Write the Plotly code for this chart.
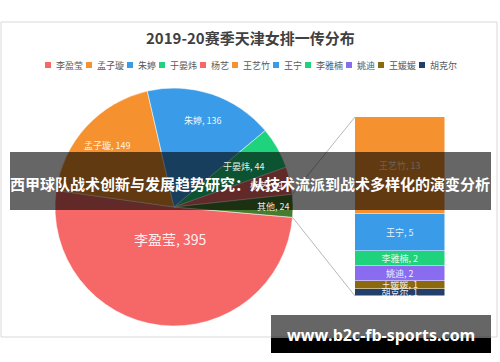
import math
import plotly.graph_objects as go

W, H = 500, 362

# ---- data ----
pie_labels = ["李盈莹", "孟子璇", "朱婷", "于晏炜", "杨艺", "其他"]
pie_values = [395, 149, 136, 44, 29, 24]
pie_colors = ["#F66867", "#F5922F", "#3A9CE8", "#1FD27C", "#F66867", "#467C2F"]

bar_labels = ["王艺竹", "王宁", "李雅楠", "姚迪", "王媛媛", "胡克尔"]
bar_values = [13, 5, 2, 2, 1, 1]
bar_colors = ["#F5922F", "#3A9CE8", "#1FD27C", "#8A6CF0", "#8B6A0E", "#223F6B"]

legend_labels = ["李盈莹", "孟子璇", "朱婷", "于晏炜", "杨艺",
                 "王艺竹", "王宁", "李雅楠", "姚迪", "王媛媛", "胡克尔"]
legend_colors = pie_colors[:5] + bar_colors

title_text = "2019-20赛季天津女排一传分布"
banner_text = "西甲球队战术创新与发展趋势研究：从技术流派到战术多样化的演变分析"
watermark_text = "www.b2c-fb-sports.com"

FONT = "Noto Sans CJK SC"


def px(x):
    return x / W


def py(y):
    return 1 - y / H


# ---- geometry (layout) ----
cx, cy, R = 174, 207, 119
rotation = 95
bx0, bx1, by0, by1 = 355, 445, 117, 296

fig = go.Figure()

fig.add_trace(go.Pie(
    labels=pie_labels, values=pie_values,
    marker=dict(colors=pie_colors, line=dict(color="white", width=0.5)),
    sort=False, direction="clockwise", rotation=rotation,
    textinfo="none", showlegend=False, hoverinfo="label+value",
    domain=dict(x=[px(cx - R), px(cx + R)], y=[py(cy + R), py(cy - R)]),
))

# stacked bar: bottom first
for lab, val, col in reversed(list(zip(bar_labels, bar_values, bar_colors))):
    fig.add_trace(go.Bar(
        x=[0], y=[val], name=lab, marker=dict(color=col, line=dict(color="white", width=0.5)),
        width=1, text=[f"{lab}, {val}"], textposition="inside", insidetextanchor="middle",
        constraintext="none", textangle=0,
        textfont=dict(family=FONT, size=9, color="rgba(255,255,255,0.9)"),
        showlegend=False, xaxis="x", yaxis="y",
    ))

shapes = []
annotations = []


def ann(x, y, text, size, color, family=FONT, xanchor="center"):
    annotations.append(dict(x=px(x), y=py(y), xref="paper", yref="paper", text=text,
                            showarrow=False, xanchor=xanchor, yanchor="middle",
                            font=dict(family=family, size=size, color=color)))


# chart frame
shapes.append(dict(type="rect", xref="paper", yref="paper", x0=px(1), x1=px(497),
                   y0=py(337), y1=py(22), line=dict(color="#D9D9D9", width=1),
                   fillcolor="rgba(0,0,0,0)", layer="below"))

# pie label annotations and connector lines computed from data
total = sum(pie_values)
label_r = [0.27, 0.76, 0.77, 0.68, 0.8, 0.84]
label_size = [14, 9, 9, 9, 9, 9]
acc = 0
bounds = []
for lab, val, fr, fs in zip(pie_labels, pie_values, label_r, label_size):
    a0 = rotation + acc / total * 360
    acc += val
    a1 = rotation + acc / total * 360
    bounds.append((a0, a1))
    am = math.radians((a0 + a1) / 2)
    x = cx + fr * R * math.sin(am)
    y = cy - fr * R * math.cos(am)
    ann(x, y, f"{lab}, {val}", fs, "rgba(255,255,255,0.92)")

o0, o1 = bounds[-1]
p_top = (cx + R * math.sin(math.radians(o0)), cy - R * math.cos(math.radians(o0)))
p_bot = (cx + R * math.sin(math.radians(o1)), cy - R * math.cos(math.radians(o1)))
for (x0, y0), (x1, y1) in [(p_top, (bx0, by0)), (p_bot, (bx0, by1))]:
    shapes.append(dict(type="line", xref="paper", yref="paper", x0=px(x0), y0=py(y0),
                       x1=px(x1), y1=py(y1), line=dict(color="#A6A6A6", width=0.8)))

# title
ann(250, 38, f"<b>{title_text}</b>", 15, "#404040")

# legend (manual)
lx = 45
for lab, col in zip(legend_labels, legend_colors):
    shapes.append(dict(type="rect", xref="paper", yref="paper", x0=px(lx), x1=px(lx + 6),
                       y0=py(68), y1=py(62), fillcolor=col, line=dict(width=0)))
    ann(lx + 9, 65, lab, 9, "#595959", xanchor="left")
    lx += 9 + 9 * len(lab) + 5

# banner overlay
shapes.append(dict(type="rect", xref="paper", yref="paper", x0=px(10), x1=px(491),
                   y0=py(210), y1=py(152), fillcolor="rgba(0,0,0,0.6)",
                   line=dict(width=0), layer="above"))
ann(250, 183, f"<b>{banner_text}</b>", 15, "white")

# watermark
shapes.append(dict(type="rect", xref="paper", yref="paper", x0=px(271), x1=px(491),
                   y0=py(338), y1=py(315), fillcolor="rgba(0,0,0,0.6)",
                   line=dict(width=0), layer="above"))
shapes.append(dict(type="rect", xref="paper", yref="paper", x0=px(271), x1=px(491),
                   y0=py(353), y1=py(338), fillcolor="black",
                   line=dict(width=0), layer="above"))
ann(381, 335, f"<b>{watermark_text}</b>", 16, "white", family="Open Sans")

fig.update_layout(
    width=W, height=H, margin=dict(l=0, r=0, t=0, b=0),
    paper_bgcolor="white", plot_bgcolor="rgba(0,0,0,0)",
    barmode="stack", bargap=0,
    xaxis=dict(domain=[px(bx0), px(bx1)], range=[-0.5, 0.5], visible=False, fixedrange=True),
    yaxis=dict(domain=[py(by1), py(by0)], range=[0, sum(bar_values)], visible=False, fixedrange=True),
    shapes=shapes, annotations=annotations, showlegend=False,
)

fig.write_html("out.html", config=dict(displayModeBar=False),
               post_script="document.body.style.margin='0';document.body.style.overflow='hidden';")
